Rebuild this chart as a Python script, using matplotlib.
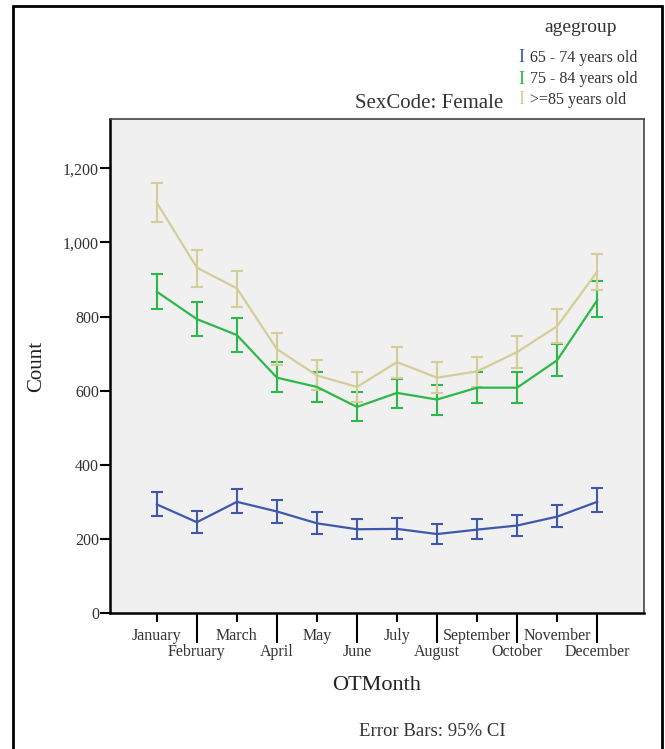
import matplotlib

matplotlib.use("Agg")
import matplotlib.pyplot as plt
from matplotlib.patches import Rectangle
from matplotlib.ticker import FuncFormatter, FixedLocator

# ---- step 0. data ----
months = [
    "January", "February", "March", "April", "May", "June",
    "July", "August", "September", "October", "November", "December",
]
groups = ["65 - 74 years old", "75 - 84 years old", ">=85 years old"]
colors = ["#3E58AC", "#2EB848", "#D3CE97"]

mean_65_74 = [293, 245, 300, 274, 242, 226, 227, 213, 225, 236, 260, 300]
low_65_74 = [263, 215, 269, 244, 213, 199, 200, 186, 199, 208, 232, 272]
high_65_74 = [326, 274, 334, 305, 272, 254, 257, 239, 254, 265, 292, 336]

mean_75_84 = [867, 793, 750, 635, 610, 556, 594, 576, 608, 608, 682, 844]
low_75_84 = [819, 748, 705, 595, 569, 517, 554, 535, 568, 568, 639, 799]
high_75_84 = [916, 840, 795, 677, 650, 595, 632, 616, 649, 649, 725, 895]

mean_85 = [1107, 932, 876, 712, 641, 610, 677, 635, 652, 704, 774, 921]
low_85 = [1055, 880, 826, 670, 601, 569, 635, 594, 609, 662, 729, 871]
high_85 = [1161, 979, 923, 756, 682, 650, 718, 676, 691, 747, 820, 970]

series = [
    (mean_65_74, low_65_74, high_65_74),
    (mean_75_84, low_75_84, high_75_84),
    (mean_85, low_85, high_85),
]

font = "Liberation Serif"
plt.rcParams["font.family"] = [font, "DejaVu Serif"]

# ---- step 1. figure and axes ----
fig = plt.figure(figsize=(6.65, 7.49), dpi=100)
ax = fig.add_axes([110 / 665, 1 - 613 / 749, (644 - 110) / 665, (613 - 119) / 749])
ax.set_facecolor("#F0F0F0")

x = list(range(len(months)))
for (m, lo, hi), c, lab in zip(series, colors, groups):
    yerr = [[mv - lv for mv, lv in zip(m, lo)], [hv - mv for mv, hv in zip(m, hi)]]
    ax.errorbar(
        x, m, yerr=yerr, color=c, lw=1.6, elinewidth=1.5,
        capsize=4, capthick=1.5, label=lab,
    )

ax.set_xlim(-1.17, 12.17)
ax.set_ylim(0, 1333)

# y axis
ax.set_yticks([0, 200, 400, 600, 800, 1000, 1200])
ax.yaxis.set_major_formatter(FuncFormatter(lambda v, p: f"{int(v):,}"))
ax.tick_params(axis="y", length=7, width=1.5, pad=1, labelsize=11.5,
               labelcolor="#333333", direction="out")
ax.set_ylabel("Count", fontsize=15, color="#222222", labelpad=12)

# x axis: two rows of labels, long ticks for the second row
ax.xaxis.set_major_locator(FixedLocator(x[0::2]))
ax.xaxis.set_minor_locator(FixedLocator(x[1::2]))
ax.set_xticklabels(months[0::2])
ax.set_xticklabels(months[1::2], minor=True)
ax.tick_params(axis="x", which="major", length=6.5, width=1.5, pad=4,
               labelsize=11.5, labelcolor="#333333")
ax.tick_params(axis="x", which="minor", length=21.5, width=1.5, pad=1,
               labelsize=11.5, labelcolor="#333333")
ax.set_xlabel("OTMonth", fontsize=16, color="#222222", labelpad=11)

for s in ["left", "bottom"]:
    ax.spines[s].set_linewidth(1.8)
    ax.spines[s].set_color("black")
for s in ["top", "right"]:
    ax.spines[s].set_linewidth(1.2)
    ax.spines[s].set_color("#444444")

# ---- step 2. texts, legend and frame ----
fig.text(503 / 665, 1 - 103 / 749, "SexCode: Female", ha="right", va="center",
         fontsize=15, color="#333333")
fig.text(581 / 665, 1 - 27 / 749, "agegroup", ha="center", va="center",
         fontsize=14, color="#333333")
for i, (lab, c) in enumerate(zip(groups, colors)):
    yy = 1 - (58 + 21 * i) / 749
    fig.text(521 / 665, yy, "I", ha="center", va="center", fontsize=13,
             color=c)
    fig.text(530 / 665, yy, lab, ha="left", va="center", fontsize=11.5,
             color="#333333")

fig.text(432 / 665, 1 - 731 / 749, "Error Bars: 95% CI", ha="center",
         va="center", fontsize=13.5, color="#333333")

fig.add_artist(Rectangle((13 / 665, -0.01), (662 - 13) / 665, (743 / 749) + 0.01,
                         transform=fig.transFigure, fill=False, lw=2,
                         edgecolor="black", clip_on=False))

fig.savefig("out.png", dpi=100)
